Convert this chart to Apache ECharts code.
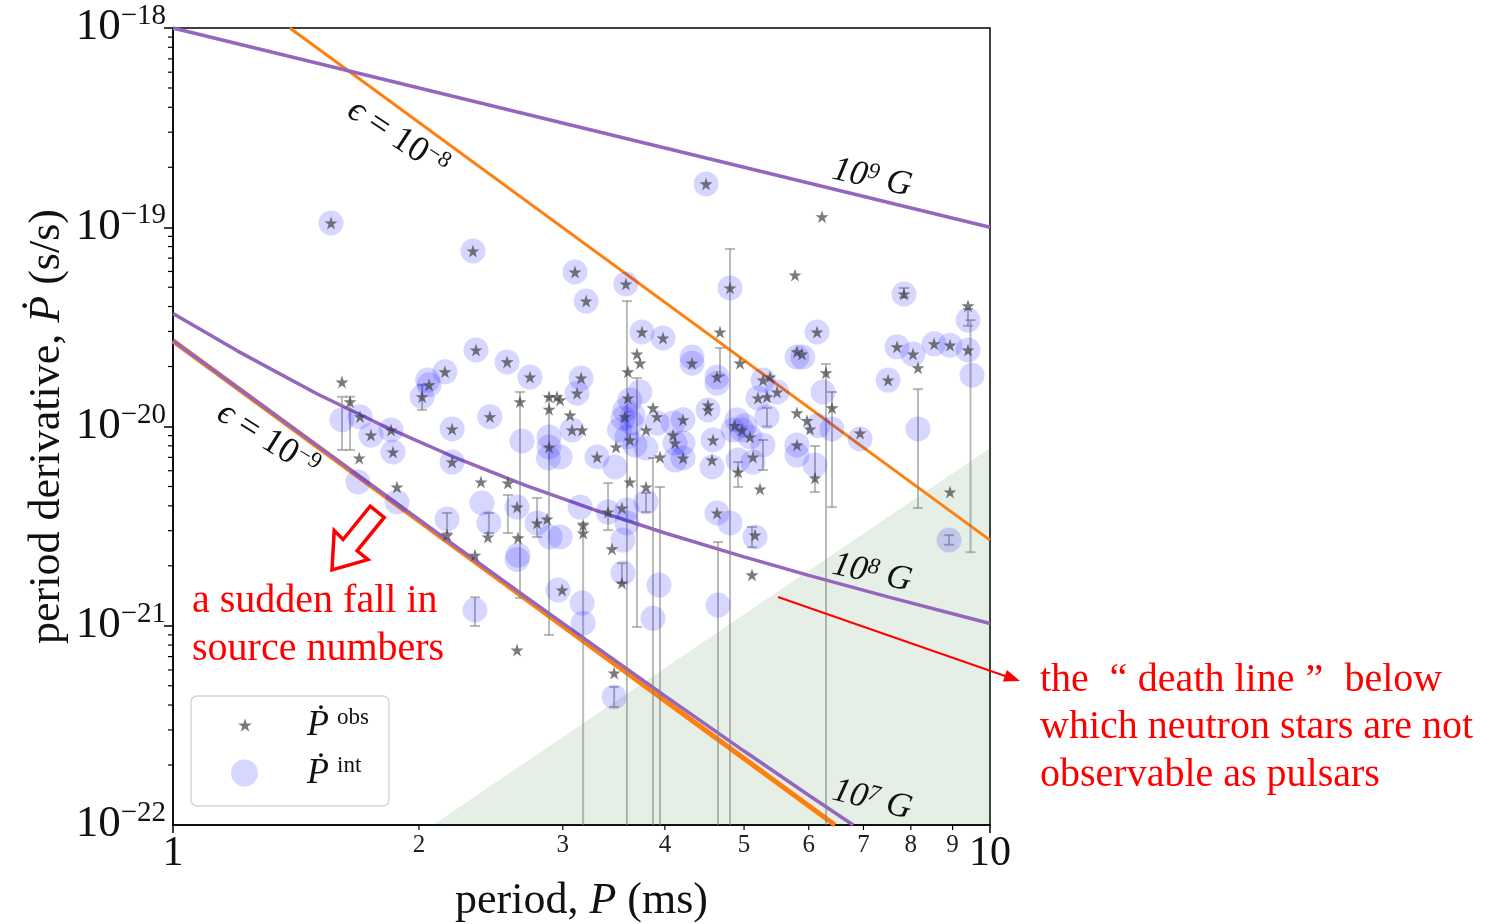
<!DOCTYPE html>
<html>
<head>
<meta charset="utf-8">
<script src="https://cdn.jsdelivr.net/npm/echarts@6/dist/echarts.min.js"></script>
<style>
  html, body { margin: 0; padding: 0; background: #fff; }
  #main { width: 1490px; height: 924px; }
</style>
</head>
<body>
<div id="main"></div>
<script>
// observed Pdot (stars): [period ms, Pdot s/s]
var obsPoints = [
  [1.561, 1.05e-19], [2.329, 7.60e-20], [2.349, 2.42e-20], [2.564, 2.11e-20], [2.735, 1.77e-20],
  [2.152, 1.88e-20], [1.610, 1.67e-20], [4.492, 1.65e-19], [3.105, 5.96e-20], [3.204, 4.26e-20],
  [3.584, 5.19e-20], [4.806, 4.96e-20], [5.772, 5.76e-20], [4.672, 2.98e-20], [3.750, 2.98e-20],
  [3.979, 2.78e-20], [3.697, 2.31e-20], [6.229, 1.13e-19], [7.847, 4.62e-20], [9.399, 4.03e-20],
  [9.399, 2.42e-20], [7.695, 2.51e-20], [8.049, 2.31e-20], [8.163, 1.97e-20], [8.542, 2.60e-20],
  [8.934, 2.56e-20], [7.503, 1.71e-20], [8.934, 4.69e-21], [6.142, 2.98e-20], [5.886, 2.31e-20],
  [6.299, 1.86e-20], [6.406, 1.24e-20], [6.934, 9.28e-21], [5.970, 1.07e-20], [6.021, 9.72e-21],
  [6.107, 5.51e-21], [2.058, 1.62e-20], [2.018, 1.41e-20], [2.443, 1.12e-20], [2.196, 9.72e-21],
  [2.659, 1.33e-20], [2.886, 1.41e-20], [2.951, 1.41e-20], [2.886, 1.22e-20], [2.886, 7.89e-21],
  [1.647, 1.33e-20], [1.694, 1.12e-20], [1.747, 9.06e-21], [1.849, 9.60e-21], [1.859, 7.45e-21],
  [2.196, 6.63e-21], [1.690, 6.95e-21], [1.880, 4.97e-21], [2.382, 5.27e-21], [2.570, 5.20e-21],
  [2.637, 3.94e-21], [2.429, 2.79e-21], [2.165, 2.85e-21], [2.644, 2.76e-21], [2.790, 3.28e-21],
  [2.870, 3.43e-21], [2.342, 2.26e-21], [3.729, 2.08e-20], [3.604, 1.88e-20], [3.159, 1.75e-20],
  [3.123, 1.47e-20], [2.977, 1.36e-20], [3.062, 1.14e-20], [3.079, 9.60e-21], [3.168, 9.60e-21],
  [3.604, 1.39e-20], [3.574, 1.12e-20], [3.624, 8.56e-21], [3.868, 1.24e-20], [3.912, 1.12e-20],
  [3.793, 9.60e-21], [3.485, 7.89e-21], [3.304, 7.03e-21], [3.945, 7.03e-21], [4.116, 8.26e-21],
  [4.093, 9.06e-21], [3.624, 5.27e-21], [3.793, 4.97e-21], [3.408, 3.72e-21], [3.544, 3.90e-21],
  [3.177, 3.20e-21], [3.177, 2.92e-21], [3.446, 2.43e-21], [4.943, 2.08e-20], [4.318, 2.08e-20],
  [4.633, 1.77e-20], [5.274, 1.71e-20], [5.487, 1.49e-20], [5.379, 1.77e-20], [5.200, 1.39e-20],
  [5.334, 1.41e-20], [5.804, 1.17e-20], [5.804, 2.37e-20], [4.517, 1.28e-20], [4.517, 1.21e-20],
  [4.870, 1.01e-20], [4.971, 9.60e-21], [5.084, 8.86e-21], [4.581, 8.56e-21], [4.210, 1.08e-20],
  [4.210, 6.95e-21], [5.804, 8.08e-21], [4.568, 6.79e-21], [4.916, 5.91e-21], [5.128, 7.03e-21],
  [5.230, 4.86e-21], [4.633, 3.68e-21], [2.637, 7.55e-22], [3.544, 1.64e-21], [2.994, 1.51e-21],
  [5.113, 1.80e-21], [3.467, 5.79e-22], [5.157, 2.85e-21]
];

// intrinsic Pdot (blue circles)
var intPoints = [
  [1.561, 1.05e-19], [2.329, 7.60e-20], [2.349, 2.42e-20], [2.564, 2.11e-20], [2.735, 1.77e-20],
  [2.152, 1.88e-20], [2.050, 1.71e-20], [4.492, 1.65e-19], [3.105, 5.96e-20], [3.204, 4.26e-20],
  [3.584, 5.19e-20], [4.806, 4.96e-20], [3.750, 2.98e-20], [3.979, 2.78e-20], [4.318, 2.23e-20],
  [7.847, 4.62e-20], [9.399, 3.42e-20], [9.399, 2.42e-20], [9.506, 1.81e-20], [7.695, 2.51e-20],
  [8.049, 2.31e-20], [8.542, 2.60e-20], [8.934, 2.56e-20], [7.503, 1.71e-20], [8.163, 9.72e-21],
  [8.910, 2.69e-21], [6.142, 2.98e-20], [5.900, 2.23e-20], [6.246, 1.49e-20], [6.406, 9.72e-21],
  [6.934, 8.66e-21], [6.107, 6.41e-21], [6.159, 1.01e-20], [2.058, 1.62e-20], [2.018, 1.41e-20],
  [2.443, 1.12e-20], [2.196, 9.72e-21], [2.674, 8.46e-21], [2.886, 8.86e-21], [2.886, 7.89e-21],
  [2.880, 6.95e-21], [1.610, 1.08e-20], [1.694, 1.12e-20], [1.747, 9.06e-21], [1.849, 9.60e-21],
  [1.859, 7.45e-21], [2.196, 6.63e-21], [1.684, 5.27e-21], [1.880, 4.18e-21], [2.389, 4.13e-21],
  [2.637, 3.94e-21], [2.436, 3.28e-21], [2.165, 3.43e-21], [2.644, 2.26e-21], [2.637, 2.15e-21],
  [2.790, 3.28e-21], [2.894, 2.79e-21], [3.729, 1.49e-20], [3.159, 1.75e-20], [3.123, 1.47e-20],
  [3.079, 9.60e-21], [2.977, 7.03e-21], [3.624, 1.36e-20], [3.554, 1.10e-20], [3.645, 1.04e-20],
  [3.594, 8.86e-21], [3.676, 8.08e-21], [3.574, 1.21e-20], [3.520, 9.60e-21], [3.656, 1.14e-20],
  [3.912, 1.04e-20], [3.793, 7.80e-21], [3.304, 7.03e-21], [3.475, 6.26e-21], [4.093, 1.04e-20],
  [4.116, 8.26e-21], [4.116, 6.79e-21], [3.793, 4.18e-21], [3.408, 3.72e-21], [3.150, 3.94e-21],
  [3.594, 3.81e-21], [3.594, 3.28e-21], [3.554, 2.69e-21], [2.977, 2.79e-21], [4.318, 2.08e-20],
  [4.633, 1.77e-20], [4.633, 1.65e-20], [5.274, 1.71e-20], [5.487, 1.49e-20], [5.200, 1.39e-20],
  [5.804, 2.23e-20], [4.517, 1.21e-20], [5.334, 1.12e-20], [4.902, 1.08e-20], [4.971, 9.60e-21],
  [4.847, 9.60e-21], [5.010, 1.01e-20], [5.084, 8.86e-21], [4.581, 8.56e-21], [5.274, 8.08e-21],
  [4.210, 1.08e-20], [4.210, 8.26e-21], [4.210, 6.95e-21], [5.804, 8.08e-21], [5.804, 7.19e-21],
  [4.568, 6.26e-21], [4.916, 6.79e-21], [5.128, 6.63e-21], [4.633, 3.68e-21], [4.806, 3.28e-21],
  [5.157, 2.79e-21], [2.960, 1.51e-21], [2.342, 1.20e-21], [3.554, 1.84e-21], [3.168, 1.30e-21],
  [3.177, 1.03e-21], [3.934, 1.60e-21], [3.868, 1.09e-21], [4.646, 1.27e-21], [3.467, 4.39e-22]
];

// error bars on the intrinsic values: [period, low, high]
var errBars = [
  [1.610, 7.62e-21, 1.41e-20], [1.647, 7.62e-21, 1.41e-20], [2.018, 1.21e-20, 1.62e-20],
  [2.659, 1.38e-21, 1.49e-20], [2.886, 8.99e-22, 1.41e-20], [3.594, 1e-23, 4.26e-20],
  [4.806, 1e-23, 7.78e-20], [4.672, 1.81e-20, 2.48e-20], [3.697, 9.86e-22, 1.75e-20],
  [3.177, 1e-23, 3.28e-21], [3.868, 1e-23, 6.95e-21], [3.945, 1e-23, 4.97e-21],
  [4.646, 1e-23, 2.63e-21], [5.113, 2.48e-21, 3.13e-21], [4.916, 4.97e-21, 6.63e-21],
  [5.274, 6.05e-21, 8.56e-21], [5.334, 1.00e-20, 1.24e-20], [6.299, 1e-23, 2.06e-20],
  [6.406, 3.94e-21, 1.49e-20], [6.107, 4.69e-21, 7.98e-21], [8.163, 3.90e-21, 1.54e-20],
  [9.466, 2.34e-21, 3.42e-20], [3.408, 3.02e-21, 5.20e-21], [3.544, 1.64e-21, 2.06e-21],
  [3.467, 3.91e-22, 4.93e-22], [3.793, 3.72e-21, 4.64e-21], [2.342, 9.97e-22, 1.39e-21],
  [2.165, 2.92e-21, 3.68e-21], [2.436, 2.92e-21, 3.68e-21], [2.570, 2.92e-21, 4.53e-21],
  [2.790, 2.79e-21, 4.38e-21], [7.847, 4.45e-20, 4.96e-20], [9.399, 3.20e-20, 3.90e-20],
  [8.910, 2.55e-21, 2.85e-21]
];

// constant-field and gravitational-wave lines
var field9 = [[1, 1.0e-18], [10, 1.0e-19]];
var field8 = [[1, 3.69e-20], [1.2, 2.39e-20], [1.5, 1.46e-20], [1.8, 1.017e-20], [2.2, 7.07e-21],
  [2.7, 5.07e-21], [3.3, 3.78e-21], [4, 2.92e-21], [5, 2.215e-21], [6, 1.79e-21], [7.5, 1.397e-21], [10, 1.027e-21]];
var field7 = [[1, 2.70e-20], [1.2, 1.565e-20], [1.5, 8.04e-21], [1.8, 4.67e-21], [2.2, 2.57e-21],
  [2.7, 1.40e-21], [3.3, 7.79e-22], [4, 4.45e-22], [5, 2.35e-22], [6, 1.41e-22], [6.8, 1.0e-22]];
var eps8 = [[1.39, 1.0e-18], [10, 2.69e-21]];
var eps9 = [[1, 2.69e-20], [6.46, 1.0e-22]];
// shaded region under the death line
var deathRegion = [[2.08, 1.0e-22], [10, 7.8e-21], [10, 1.0e-22]];

var xMinor = [2, 3, 4, 5, 6, 7, 8, 9];
var yMajor = [1e-22, 1e-21, 1e-20, 1e-19, 1e-18];
var yDecades = [-22, -21, -20, -19];

var FONT = 'Liberation Serif';
var PURPLE = '#9467bd';
var ORANGE = '#ff7f0e';
var STAR = 'path://M50,0L61.2,34.5L97.6,34.5L68.2,55.9L79.4,90.5L50,69.1L20.6,90.5L31.8,55.9L2.4,34.5L38.8,34.5Z';
var Y_MIN = 1e-22;

var yMinor = [];
yDecades.forEach(function (d) {
  xMinor.forEach(function (k) { yMinor.push([1, k * Math.pow(10, d)]); });
});

var chart = echarts.init(document.getElementById('main'));

function lineSeries(name, data, color, width) {
  return {
    name: name, type: 'line', data: data, showSymbol: false, smooth: false,
    lineStyle: { color: color, width: width }, silent: true, z: 3
  };
}

function legendText(sup) {
  return {
    formatter: function () { return '{p|\u1E56}{s|' + sup + '}'; },
    rich: {
      p: { fontFamily: FONT, fontSize: 36, fontStyle: 'italic', color: '#111', lineHeight: 38, verticalAlign: 'bottom' },
      s: { fontFamily: FONT, fontSize: 23, color: '#111', lineHeight: 23, verticalAlign: 'top', padding: [0, 0, 0, 8] }
    }
  };
}
var legObs = legendText('obs');
var legInt = legendText('int');

var option = {
  animation: false,
  grid: { left: 173, top: 28, width: 817, height: 797, show: true, borderColor: '#000', borderWidth: 1.5,
    outerBoundsMode: 'none', containLabel: false },
  xAxis: {
    type: 'log', logBase: 10, min: 1, max: 10,
    axisLine: { lineStyle: { color: '#000', width: 1.5 } },
    axisTick: { length: 8, lineStyle: { color: '#000', width: 1.5 } },
    splitLine: { show: false },
    axisLabel: {
      margin: 8, color: '#111', fontFamily: FONT, fontSize: 42,
      formatter: function (v) { return (v === 1 || v === 10) ? String(v) : ''; }
    },
    name: '{n|period, }{i|P}{n| (ms)}',
    nameLocation: 'middle', nameGap: 54, nameMoveOverlap: false,
    nameTextStyle: {
      rich: {
        n: { fontFamily: FONT, fontSize: 44, color: '#111' },
        i: { fontFamily: FONT, fontSize: 44, fontStyle: 'italic', color: '#111' }
      }
    }
  },
  yAxis: {
    type: 'log', logBase: 10, min: 1e-22, max: 1e-18,
    axisLine: { lineStyle: { color: '#000', width: 1.5 } },
    axisTick: { length: 9, lineStyle: { color: '#000', width: 1.5 } },
    splitLine: { show: false },
    axisLabel: { show: false },
    name: '{n|period derivative, }{i|\u1E56}{n| (s/s)}',
    nameLocation: 'middle', nameGap: 104, nameRotate: 90, nameMoveOverlap: false,
    nameTextStyle: {
      rich: {
        n: { fontFamily: FONT, fontSize: 44, color: '#111' },
        i: { fontFamily: FONT, fontSize: 44, fontStyle: 'italic', color: '#111' }
      }
    }
  },
  legend: [
    {
      data: [{ name: 'obs', icon: STAR }], left: 233, top: 701, itemWidth: 14, itemHeight: 14, z: 10,
      selectedMode: false, formatter: legObs.formatter,
      textStyle: { padding: [0, 0, 0, 50], rich: legObs.rich }
    },
    {
      data: [{ name: 'int', icon: 'circle' }], left: 226, top: 749, itemWidth: 27, itemHeight: 27, z: 10,
      selectedMode: false, formatter: legInt.formatter,
      textStyle: { padding: [0, 0, 0, 44], rich: legInt.rich }
    }
  ],
  series: [
    {
      name: 'death', type: 'custom', data: deathRegion, clip: true, silent: true, z: 1,
      renderItem: function (params, api) {
        if (params.dataIndex !== 0) return null;
        var pts = deathRegion.map(function (d) { return api.coord(d); });
        return { type: 'polygon', shape: { points: pts }, style: { fill: 'rgba(0,100,0,0.1)' } };
      }
    },
    lineSeries('eps8', eps8, ORANGE, 3),
    lineSeries('eps9', eps9, ORANGE, 5),
    lineSeries('B9', field9, PURPLE, 3.5),
    lineSeries('B8', field8, PURPLE, 3.5),
    lineSeries('B7', field7, PURPLE, 3.5),
    {
      name: 'err', type: 'custom', data: errBars, clip: true, silent: true, z: 4,
      encode: { x: 0, y: [1, 2] },
      renderItem: function (params, api) {
        var x = api.value(0);
        var top = api.coord([x, api.value(2)]);
        var bot = api.coord([x, api.value(1)]);
        var st = { stroke: 'rgba(130,130,130,0.55)', lineWidth: 2 };
        return {
          type: 'group', children: [
            { type: 'line', shape: { x1: top[0], y1: top[1], x2: bot[0], y2: bot[1] }, style: st },
            { type: 'line', shape: { x1: top[0] - 5, y1: top[1], x2: top[0] + 5, y2: top[1] }, style: st },
            { type: 'line', shape: { x1: bot[0] - 5, y1: bot[1], x2: bot[0] + 5, y2: bot[1] }, style: st }
          ]
        };
      }
    },
    {
      name: 'int', type: 'scatter', data: intPoints, symbol: 'circle', symbolSize: 25, z: 5,
      itemStyle: { color: 'rgba(0,0,255,0.2)' }, silent: true
    },
    {
      name: 'obs', type: 'scatter', data: obsPoints, symbol: STAR, symbolSize: 13, z: 6,
      itemStyle: { color: 'rgba(60,60,60,0.85)' }, silent: true
    },
    {
      name: 'xminor', type: 'custom', silent: true, z: 7,
      data: xMinor.map(function (v) { return [v, Y_MIN]; }),
      renderItem: function (params, api) {
        var p = api.coord([api.value(0), api.value(1)]);
        return {
          type: 'group', children: [
            { type: 'line', shape: { x1: p[0], y1: p[1], x2: p[0], y2: p[1] + 5 }, style: { stroke: '#000', lineWidth: 1.2 } },
            { type: 'text', x: p[0], y: p[1] + 8, style: { text: String(api.value(0)), align: 'center', verticalAlign: 'top', font: '25px ' + FONT, fill: '#222' } }
          ]
        };
      }
    },
    {
      name: 'yminor', type: 'custom', silent: true, z: 7, data: yMinor,
      renderItem: function (params, api) {
        var p = api.coord([api.value(0), api.value(1)]);
        return { type: 'line', shape: { x1: p[0] - 5, y1: p[1], x2: p[0], y2: p[1] }, style: { stroke: '#000', lineWidth: 1.2 } };
      }
    },
    {
      name: 'ylabels', type: 'custom', silent: true, z: 7,
      data: yMajor.map(function (v) { return [1, v]; }),
      renderItem: function (params, api) {
        var v = api.value(1);
        var p = api.coord([api.value(0), v]);
        var e = Math.round(Math.log10(v));
        return {
          type: 'text', x: p[0] - 7, y: p[1] - 2,
          style: {
            text: '{b|10}{s|\u2212' + (-e) + '}', align: 'right', verticalAlign: 'middle',
            rich: {
              b: { font: '45px ' + FONT, fill: '#111', lineHeight: 48, verticalAlign: 'bottom' },
              s: { font: '29px ' + FONT, fill: '#111', lineHeight: 29, verticalAlign: 'top' }
            }
          }
        };
      }
    }
  ],
  graphic: [
    // legend frame
    { type: 'rect', z: 5, shape: { x: 191, y: 696, width: 198, height: 110, r: 6 },
      style: { fill: 'rgba(255,255,255,0.85)', stroke: '#d6d6d6', lineWidth: 1.5 } },
    // line labels
    { type: 'text', x: 398, y: 138, rotation: -0.58, z: 20,
      style: { text: '{e|\u03F5}{n| = 10}{s|\u22128}', align: 'center', verticalAlign: 'middle',
        rich: { e: { font: 'italic 36px ' + FONT, fill: '#111' }, n: { font: '36px ' + FONT, fill: '#111' },
          s: { font: '23px ' + FONT, fill: '#111', verticalAlign: 'top' } } } },
    { type: 'text', x: 268, y: 440, rotation: -0.56, z: 20,
      style: { text: '{e|\u03F5}{n| = 10}{s|\u22129}', align: 'center', verticalAlign: 'middle',
        rich: { e: { font: 'italic 36px ' + FONT, fill: '#111' }, n: { font: '36px ' + FONT, fill: '#111' },
          s: { font: '23px ' + FONT, fill: '#111', verticalAlign: 'top' } } } },
    { type: 'text', x: 872, y: 178, rotation: -0.22, z: 20,
      style: { text: '{n|10}{s|9}{n| G}', align: 'center', verticalAlign: 'middle',
        rich: { n: { font: 'italic 35px ' + FONT, fill: '#111' }, s: { font: 'italic 23px ' + FONT, fill: '#111', verticalAlign: 'top' } } } },
    { type: 'text', x: 872, y: 573, rotation: -0.22, z: 20,
      style: { text: '{n|10}{s|8}{n| G}', align: 'center', verticalAlign: 'middle',
        rich: { n: { font: 'italic 35px ' + FONT, fill: '#111' }, s: { font: 'italic 23px ' + FONT, fill: '#111', verticalAlign: 'top' } } } },
    { type: 'text', x: 872, y: 800, rotation: -0.25, z: 20,
      style: { text: '{n|10}{s|7}{n| G}', align: 'center', verticalAlign: 'middle',
        rich: { n: { font: 'italic 35px ' + FONT, fill: '#111' }, s: { font: 'italic 23px ' + FONT, fill: '#111', verticalAlign: 'top' } } } },
    // red annotations
    { type: 'polygon', z: 20,
      shape: { points: [[370.2, 506.1], [384.2, 517.4], [357.1, 550.8], [368.0, 559.6], [332, 570], [334.2, 530.6], [343.1, 539.5]] },
      style: { fill: 'none', stroke: '#ff0000', lineWidth: 3.5 } },
    { type: 'text', x: 192, y: 601, z: 20,
      style: { text: 'a sudden fall in', font: '40px ' + FONT, fill: '#ff0000', verticalAlign: 'middle' } },
    { type: 'text', x: 192, y: 649, z: 20,
      style: { text: 'source numbers', font: '40px ' + FONT, fill: '#ff0000', verticalAlign: 'middle' } },
    { type: 'line', z: 20, shape: { x1: 778, y1: 597, x2: 1008, y2: 677 },
      style: { stroke: '#ff0000', lineWidth: 2 } },
    { type: 'polygon', z: 20, shape: { points: [[1020, 681], [1002.9, 681.5], [1006.9, 670.1]] },
      style: { fill: '#ff0000' } },
    { type: 'text', x: 1040, y: 680, z: 20,
      style: { text: '{t|the }{q|\u201C}{t|death line}{r|\u201D}{t| below}', verticalAlign: 'middle',
        rich: { t: { font: '40px ' + FONT, fill: '#ff0000' },
          q: { font: '40px ' + FONT, fill: '#ff0000', width: 39, align: 'center' },
          r: { font: '40px ' + FONT, fill: '#ff0000', width: 40, align: 'left' } } } },
    { type: 'text', x: 1040, y: 727, z: 20,
      style: { text: 'which neutron stars are not', font: '40px ' + FONT, fill: '#ff0000', verticalAlign: 'middle' } },
    { type: 'text', x: 1040, y: 775, z: 20,
      style: { text: 'observable as pulsars', font: '40px ' + FONT, fill: '#ff0000', verticalAlign: 'middle' } }
  ]
};

chart.setOption(option);
</script>
</body>
</html>
